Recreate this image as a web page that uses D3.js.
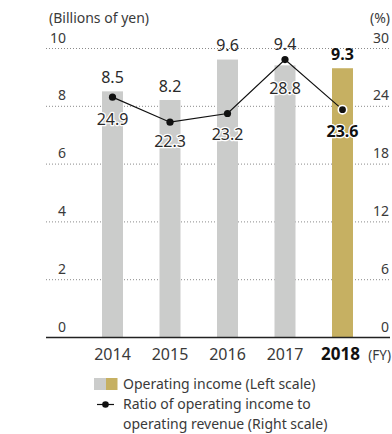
<!DOCTYPE html>
<html>
<head>
<meta charset="utf-8">
<script src="https://cdn.jsdelivr.net/npm/d3@7"></script>
<style>
  html, body { margin: 0; padding: 0; background: #fff; }
  svg { display: block; font-family: "Noto Sans", "Lato", sans-serif; }
</style>
</head>
<body>
<svg id="chart" width="392" height="434"></svg>
<script>
// Fiscal years, operating income (billions of yen) and operating margin (%)
const years = ["2014", "2015", "2016", "2017", "2018"];
const operatingIncome = [8.5, 8.2, 9.6, 9.4, 9.3];
const operatingRatio = [24.9, 22.3, 23.2, 28.8, 23.6];
const leftTicks = [0, 2, 4, 6, 8, 10];
const rightTicks = [0, 6, 12, 18, 24, 30];
const legendLabels = ["Operating income (Left scale)", "Ratio of operating income to", "operating revenue (Right scale)"];

const svg = d3.select("#chart");
const plotLeft = 46, plotRight = 390, plotTop = 48, plotBottom = 337;

const x = d3.scalePoint().domain(years).range([112.5, 342.5]);
const yLeft = d3.scaleLinear().domain([0, 10]).range([plotBottom, plotTop]);
const yRight = d3.scaleLinear().domain([0, 30]).range([plotBottom, plotTop]);

const gray = "#cbcccb", gold = "#c6b062", textCol = "#3a3a3a";
const barW = 21;
const latest = years.length - 1;

// dotted horizontal gridlines
svg.append("g").selectAll("line").data(leftTicks.filter(d => d > 0)).join("line")
  .attr("x1", plotLeft).attr("x2", plotRight)
  .attr("y1", d => yLeft(d) + 0.5).attr("y2", d => yLeft(d) + 0.5)
  .attr("stroke", "#8a8a8a").attr("stroke-width", 1).attr("stroke-dasharray", "1,2");

// left axis tick labels
svg.append("g").selectAll("text").data(leftTicks).join("text")
  .attr("x", 66).attr("y", d => yLeft(d) - 5.5)
  .attr("text-anchor", "end").attr("font-size", 14).attr("fill", textCol)
  .text(d => d);

// right axis tick labels
svg.append("g").selectAll("text").data(rightTicks).join("text")
  .attr("x", 389).attr("y", d => yRight(d) - 5.5)
  .attr("text-anchor", "end").attr("font-size", 14).attr("fill", textCol)
  .text(d => d);

// unit captions
svg.append("text").attr("x", 49).attr("y", 23).attr("font-size", 14).attr("fill", textCol)
  .text("(Billions of yen)");
svg.append("text").attr("x", 390).attr("y", 23).attr("text-anchor", "end").attr("font-size", 14).attr("fill", textCol)
  .text("(%)");

// bars
svg.append("g").selectAll("rect").data(operatingIncome).join("rect")
  .attr("x", (d, i) => x(years[i]) - barW / 2)
  .attr("y", d => yLeft(d))
  .attr("width", barW)
  .attr("height", d => plotBottom - yLeft(d))
  .attr("fill", (d, i) => i === latest ? gold : gray);

// baseline
svg.append("line").attr("x1", plotLeft).attr("x2", plotRight)
  .attr("y1", plotBottom + 0.5).attr("y2", plotBottom + 0.5)
  .attr("stroke", "#222").attr("stroke-width", 1.3);

// year labels (latest year bold, nudged left to make room for the unit)
svg.append("g").selectAll("text").data(years).join("text")
  .attr("x", (d, i) => x(d) - (i === latest ? 2 : 0)).attr("y", 360)
  .attr("text-anchor", "middle")
  .attr("font-size", (d, i) => i === latest ? 17 : 16)
  .attr("font-weight", (d, i) => i === latest ? 700 : 400)
  .attr("fill", (d, i) => i === latest ? "#111" : textCol)
  .text(d => d);
svg.append("text").attr("x", 391).attr("y", 360).attr("text-anchor", "end")
  .attr("font-size", 13.5).attr("fill", textCol).text("(FY)");

// ratio line
const line = d3.line().x((d, i) => x(years[i])).y(d => yRight(d));
svg.append("path").datum(operatingRatio).attr("d", line)
  .attr("fill", "none").attr("stroke", "#111").attr("stroke-width", 1.2);
svg.append("g").selectAll("circle").data(operatingRatio).join("circle")
  .attr("cx", (d, i) => x(years[i])).attr("cy", d => yRight(d))
  .attr("r", (d, i) => i === latest ? 4.2 : 3.6)
  .attr("fill", "#111")
  .attr("stroke", (d, i) => i === latest ? "#fff" : "none")
  .attr("stroke-width", 1.6);

// value labels above bars (2017 lifted to clear the ratio marker)
const barLabelLift = [8, 8, 9, 15, 8];
svg.append("g").selectAll("text").data(operatingIncome).join("text")
  .attr("x", (d, i) => x(years[i])).attr("y", (d, i) => yLeft(d) - barLabelLift[i])
  .attr("text-anchor", "middle").attr("font-size", 16)
  .attr("font-weight", (d, i) => i === latest ? 700 : 400)
  .attr("fill", (d, i) => i === latest ? "#111" : "#2a2a2a")
  .text(d => d.toFixed(1));

// ratio labels below markers, with a white halo
const ratioLabelDrop = [28, 25, 26, 34, 27];
svg.append("g").selectAll("text").data(operatingRatio).join("text")
  .attr("x", (d, i) => x(years[i])).attr("y", (d, i) => yRight(d) + ratioLabelDrop[i])
  .attr("text-anchor", "middle").attr("font-size", 16)
  .attr("font-weight", (d, i) => i === latest ? 700 : 400)
  .attr("fill", (d, i) => i === latest ? "#111" : "#2a2a2a")
  .attr("stroke", "#fff").attr("stroke-width", 2.5).attr("paint-order", "stroke")
  .attr("stroke-linejoin", "round")
  .text(d => d.toFixed(1));

// legend
const lg = svg.append("g");
lg.append("rect").attr("x", 94).attr("y", 378).attr("width", 12).attr("height", 12).attr("fill", gray);
lg.append("rect").attr("x", 106).attr("y", 378).attr("width", 11.5).attr("height", 12).attr("fill", gold);
lg.append("line").attr("x1", 97).attr("x2", 114).attr("y1", 404.5).attr("y2", 404.5)
  .attr("stroke", "#111").attr("stroke-width", 1.2);
lg.append("circle").attr("cx", 105.5).attr("cy", 404.5).attr("r", 3.3).attr("fill", "#111");
lg.selectAll("text").data(legendLabels).join("text")
  .attr("x", 123).attr("y", (d, i) => [389, 409.3, 428.5][i])
  .attr("font-size", 14).attr("fill", textCol)
  .text(d => d);
</script>
</body>
</html>
